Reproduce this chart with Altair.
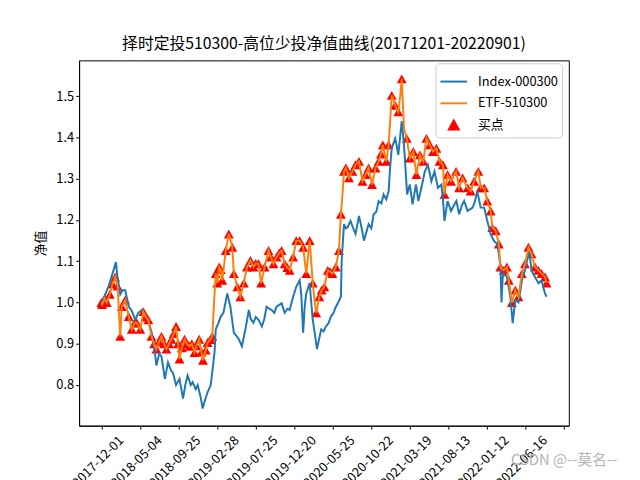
import altair as alt
import pandas as pd

TITLE = "择时定投510300-高位少投净值曲线(20171201-20220901)"
Y_TITLE = "净值"
SERIES = ["Index-000300", "ETF-510300", "买点"]
COLORS = ["#1f77b4", "#ff7f0e", "#ff0000"]
TICK_VALUES = [0, 100, 200, 300, 400, 500, 600, 700, 800, 900, 1000, 1100, 1200]
TICK_LABELS = ["2017-12-01", "2018-05-04", "2018-09-25", "2019-02-28", "2019-07-25",
               "2019-12-20", "2020-05-25", "2020-10-22", "2021-03-19", "2021-08-13",
               "2022-01-12", "2022-06-16"]
Y_TICKS = [0.8, 0.9, 1.0, 1.1, 1.2, 1.3, 1.4, 1.5]
WATERMARK = "CSDN @--莫名--"

# Index-000300 net value (trading-day number, value)
INDEX_DAY = [0, 6, 19, 29, 38, 42, 49, 55, 62, 71, 79, 88, 96, 105, 113, 122, 130, 139, 143, 150,
             156, 165, 173, 181, 186, 194, 203, 212, 218, 224, 232, 237, 245, 250, 258, 263, 268, 276, 284, 289,
             294, 297, 304, 310, 317, 327, 335, 344, 350, 357, 365, 374, 383, 388, 395, 401, 408, 417, 423, 429,
             436, 442, 449, 455, 463, 468, 476, 483, 489, 498, 506, 515, 519, 524, 528, 532, 541, 545, 549, 555,
             560, 565, 571, 577, 583, 590, 596, 603, 609, 615, 622, 624, 630, 635, 639, 647, 654, 660, 669, 676,
             682, 688, 694, 701, 707, 714, 720, 727, 733, 740, 746, 750, 754, 763, 767, 771, 780, 786, 788, 794,
             801, 808, 817, 823, 831, 840, 848, 857, 865, 874, 883, 887, 891, 899, 908, 917, 922, 929, 936, 942,
             951, 964, 970, 976, 985, 994, 1002, 1011, 1019, 1028, 1036, 1039, 1042, 1045, 1053, 1062, 1068, 1075, 1083, 1092,
             1100, 1111, 1117, 1126, 1135, 1143, 1152, 1156]
INDEX_NAV = [1.0, 1.01, 1.04, 1.07, 1.098, 1.06, 1.02, 1.03, 1.03, 0.99, 0.98, 0.958, 0.975, 0.982, 0.97, 0.955, 0.93, 0.88, 0.847, 0.875,
             0.87, 0.815, 0.855, 0.835, 0.83, 0.80, 0.815, 0.767, 0.80, 0.823, 0.80, 0.807, 0.79, 0.80, 0.77, 0.743, 0.76, 0.783, 0.80, 0.84,
             0.88, 0.935, 0.95, 0.966, 0.975, 1.022, 0.99, 0.927, 0.92, 0.911, 0.894, 0.935, 0.982, 0.96, 0.951, 0.965, 0.958, 0.942, 0.96, 0.99,
             0.985, 0.982, 0.975, 0.99, 0.995, 0.998, 0.975, 0.985, 0.982, 1.014, 1.038, 1.054, 1.02, 0.927, 0.99, 1.022, 1.047, 1.0, 0.958, 0.92,
             0.887, 0.91, 0.935, 0.93, 0.942, 0.95, 0.966, 0.975, 0.99, 1.0, 1.014, 1.10, 1.19, 1.18, 1.182, 1.198, 1.18, 1.166, 1.21, 1.18,
             1.15, 1.17, 1.19, 1.18, 1.214, 1.22, 1.246, 1.24, 1.262, 1.25, 1.27, 1.33, 1.374, 1.398, 1.38, 1.358, 1.44, 1.38, 1.35, 1.262,
             1.286, 1.238, 1.286, 1.246, 1.278, 1.318, 1.334, 1.294, 1.318, 1.278, 1.286, 1.25, 1.198, 1.246, 1.222, 1.238, 1.246, 1.214, 1.235, 1.246,
             1.222, 1.23, 1.245, 1.27, 1.23, 1.23, 1.198, 1.166, 1.15, 1.142, 1.094, 1.0, 1.06, 1.07, 1.062, 1.014, 0.95, 1.006, 1.0, 1.054,
             1.078, 1.126, 1.078, 1.062, 1.047, 1.054, 1.022, 1.014]

# ETF-510300 net value
ETF_DAY = [0, 2, 9, 14, 22, 29, 36, 42, 46, 49, 53, 62, 71, 79, 86, 92, 101, 109, 115, 122,
           130, 137, 143, 150, 156, 163, 169, 176, 182, 188, 194, 199, 203, 209, 216, 222, 229, 235, 242, 247,
           254, 260, 264, 271, 276, 283, 288, 293, 297, 301, 306, 310, 314, 323, 331, 340, 344, 353, 361, 370,
           378, 387, 395, 401, 408, 415, 424, 434, 440, 447, 455, 462, 468, 476, 483, 489, 498, 506, 515, 524,
           532, 541, 549, 554, 558, 566, 572, 579, 588, 594, 600, 609, 617, 622, 626, 630, 635, 643, 652, 660,
           669, 678, 686, 694, 703, 712, 720, 726, 731, 740, 746, 754, 759, 763, 771, 776, 780, 786, 793, 801,
           810, 818, 827, 836, 844, 853, 861, 870, 878, 887, 891, 899, 908, 921, 929, 938, 951, 959, 968, 979,
           985, 994, 1002, 1011, 1015, 1024, 1032, 1036, 1045, 1053, 1058, 1066, 1075, 1083, 1092, 1100, 1109, 1117, 1126, 1135,
           1143, 1152, 1156]
ETF_NAV = [1.0, 0.995, 1.01, 1.0, 1.02, 1.045, 1.062, 1.04, 0.97, 0.918, 0.99, 1.006, 0.966, 0.935, 0.95, 0.951, 0.935, 0.978, 0.965, 0.958,
           0.918, 0.9, 0.887, 0.905, 0.918, 0.9, 0.887, 0.9, 0.911, 0.925, 0.942, 0.9, 0.863, 0.89, 0.911, 0.9, 0.894, 0.9, 0.879, 0.895,
           0.911, 0.88, 0.86, 0.885, 0.903, 0.91, 0.918, 1.006, 1.07, 1.047, 1.086, 1.08, 1.054, 1.126, 1.166, 1.134, 1.07, 1.038, 1.014, 1.047,
           1.086, 1.102, 1.086, 1.095, 1.094, 1.047, 1.086, 1.126, 1.11, 1.094, 1.11, 1.12, 1.126, 1.094, 1.085, 1.078, 1.11, 1.15, 1.15, 1.134,
           1.07, 1.15, 1.047, 1.0, 0.975, 1.014, 1.03, 1.038, 1.078, 1.075, 1.07, 1.086, 1.126, 1.214, 1.26, 1.318, 1.326, 1.302, 1.318, 1.334,
           1.342, 1.294, 1.31, 1.326, 1.286, 1.326, 1.342, 1.36, 1.382, 1.342, 1.382, 1.502, 1.49, 1.478, 1.462, 1.5, 1.542, 1.422, 1.398, 1.35,
           1.366, 1.31, 1.358, 1.342, 1.398, 1.382, 1.366, 1.374, 1.342, 1.334, 1.262, 1.31, 1.294, 1.318, 1.278, 1.302, 1.278, 1.27, 1.294, 1.318,
           1.278, 1.278, 1.246, 1.222, 1.182, 1.174, 1.142, 1.086, 1.078, 1.086, 1.054, 1.0, 1.03, 1.014, 1.07, 1.094, 1.134, 1.118, 1.086, 1.078,
           1.07, 1.062, 1.047]

# buy points (trading days on the ETF curve)
BUY_DAY = [0, 2, 9, 14, 22, 29, 36, 42, 49, 53, 62, 71, 79, 86, 92, 101, 109, 115, 122,
           130, 137, 143, 150, 156, 163, 169, 176, 182, 188, 194, 199, 203, 209, 216, 222, 229, 235, 242, 247,
           254, 260, 264, 271, 276, 283, 288, 297, 301, 306, 310, 314, 323, 331, 340, 344, 353, 361, 370,
           378, 387, 395, 401, 408, 415, 424, 434, 440, 447, 455, 462, 468, 476, 483, 489, 498, 506, 515, 524,
           532, 541, 549, 558, 566, 572, 579, 588, 594, 600, 609, 617, 622, 630, 635, 643, 652, 660,
           669, 678, 686, 694, 703, 712, 720, 726, 731, 740, 746, 754, 763, 771, 780, 793, 801,
           810, 818, 827, 836, 844, 853, 861, 870, 878, 887, 891, 899, 908, 921, 929, 938, 951, 959, 968, 979,
           985, 994, 1002, 1011, 1015, 1024, 1032, 1036, 1045, 1053, 1058, 1066, 1075, 1083, 1092, 1100, 1109, 1117, 1126, 1135,
           1143, 1152, 1156]

assert len(INDEX_DAY) == len(INDEX_NAV)
assert len(ETF_DAY) == len(ETF_NAV)

etf_lookup = dict(zip(ETF_DAY, ETF_NAV))
lines = pd.concat([
    pd.DataFrame({"day": INDEX_DAY, "nav": INDEX_NAV, "series": SERIES[0]}),
    pd.DataFrame({"day": ETF_DAY, "nav": ETF_NAV, "series": SERIES[1]}),
])
buys = pd.DataFrame({"day": BUY_DAY, "nav": [etf_lookup[d] for d in BUY_DAY], "series": SERIES[2]})

FONT = "Noto Sans CJK SC"
n_last = 1156
x_dom = [-0.05 * n_last, 1.05 * n_last]
y_dom = [0.7015, 1.587]

SYM_SIZE = 729  # sqrt = 27 px handle length for the line entries
TRIANGLE = "M0,-0.333L-0.37,0.333L0.37,0.333Z"  # ~10 px wide triangle at SYM_SIZE

label_arr = "[" + ",".join("'%s'" % t for t in TICK_LABELS) + "]"
x_enc = alt.X("day:Q", scale=alt.Scale(domain=x_dom, nice=False, zero=False),
              axis=alt.Axis(values=TICK_VALUES, labelExpr=label_arr + "[round(datum.value/100)] || ''",
                            labelAngle=-45, labelAlign="right", labelBaseline="middle", labelOverlap=False,
                            labelBound=False, labelFlush=False,
                            labelOffset=20, labelPadding=9, title=None))
y_enc = alt.Y("nav:Q", scale=alt.Scale(domain=y_dom, nice=False, zero=False),
              axis=alt.Axis(values=Y_TICKS, format=".1f", title=Y_TITLE, titlePadding=8))
color_enc = alt.Color("series:N", scale=alt.Scale(domain=SERIES, range=COLORS), legend=alt.Legend(title=None))

pts = alt.Chart(buys).mark_point(filled=True, opacity=1, strokeWidth=0, size=SYM_SIZE).encode(
    x=x_enc, y=y_enc, color=color_enc,
    shape=alt.Shape("series:N", scale=alt.Scale(domain=SERIES, range=["stroke", "stroke", TRIANGLE]),
                    legend=alt.Legend(title=None)),
)
ln = alt.Chart(lines).mark_line(strokeWidth=2).encode(
    x=x_enc, y=y_enc, color=color_enc, detail="series:N",
)
wm = alt.Chart(pd.DataFrame({"t": [WATERMARK]})).mark_text(
    align="right", baseline="middle", fontSize=15, color="#b4b4b4", font=FONT
).encode(text="t:N", x=alt.value(545), y=alt.value(405))

chart = alt.layer(pts, ln, wm).properties(
    width=496, height=370,
    title=alt.TitleParams(TITLE, fontSize=16, font=FONT, fontWeight="normal", offset=8, color="black"),
    padding={"left": 72, "top": 50, "right": 64, "bottom": 52},
    autosize=alt.AutoSizeParams(type="none"),
).configure_view(stroke="black", strokeWidth=1).configure_axis(
    grid=False, domainColor="black", tickColor="black", tickSize=3.5, labelColor="black",
    labelFont=FONT, labelFontSize=13, titleFont=FONT, titleFontSize=13, titleFontWeight="normal",
    titleColor="black",
).configure_legend(
    orient="none", legendX=361, legendY=3, padding=4, strokeColor="#cccccc", cornerRadius=3,
    fillColor="rgba(255,255,255,0.8)", labelFont=FONT, labelFontSize=13, labelColor="black",
    symbolStrokeWidth=2, rowPadding=-10, labelOffset=10, symbolSize=SYM_SIZE,
    symbolFillColor="red", symbolStrokeColor="red",
)

chart.save("out.html", embed_options={"renderer": "svg", "actions": False})
